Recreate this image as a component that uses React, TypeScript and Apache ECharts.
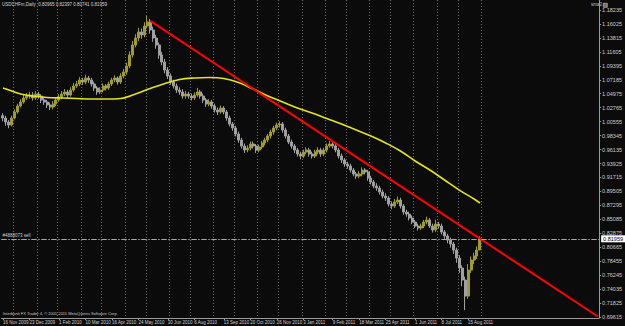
import React, { useEffect, useRef } from "react";
import * as echarts from "echarts";

// ---- data ----
const firstOpen = 1.015;
const closes = [
  1.0113, 1.005, 1.0002, 1.0113, 1.0208, 1.0303, 1.0366, 1.043, 1.0461, 1.0477,
  1.043, 1.0493, 1.0461, 1.0398, 1.0366, 1.0319, 1.0287, 1.0335, 1.0398, 1.0446,
  1.0493, 1.0525, 1.0477, 1.0556, 1.062, 1.0651, 1.0715, 1.0683, 1.0747, 1.0715,
  1.0651, 1.0588, 1.0525, 1.0556, 1.062, 1.0588, 1.0651, 1.0715, 1.0747, 1.0683,
  1.0778, 1.0842, 1.0937, 1.1111, 1.1269, 1.138, 1.1475, 1.1428, 1.157, 1.1634,
  1.1507, 1.138, 1.1269, 1.1111, 1.1, 1.0873, 1.0778, 1.0683, 1.062, 1.0556,
  1.0525, 1.0461, 1.0493, 1.0461, 1.043, 1.0477, 1.0525, 1.0461, 1.0398, 1.0335,
  1.0366, 1.0303, 1.024, 1.0208, 1.0271, 1.0208, 1.0113, 1.0018, 0.9955, 0.9859,
  0.9764, 0.9669, 0.9606, 0.9638, 0.9701, 0.9669, 0.9606, 0.9654, 0.9717, 0.9764,
  0.9828, 0.9891, 0.9955, 1.0002, 1.0018, 0.9923, 0.9828, 0.9733, 0.9669, 0.9606,
  0.9543, 0.9511, 0.9574, 0.9606, 0.9543, 0.9511, 0.9574, 0.9606, 0.9543, 0.9606,
  0.9669, 0.9701, 0.9669, 0.9606, 0.9511, 0.9448, 0.9384, 0.9353, 0.9289, 0.9226,
  0.9194, 0.9226, 0.9289, 0.9258, 0.9163, 0.9099, 0.9036, 0.9004, 0.8941, 0.8877,
  0.8846, 0.8751, 0.8719, 0.8782, 0.8814, 0.8719, 0.8624, 0.8592, 0.8529, 0.8466,
  0.8402, 0.8371, 0.8402, 0.8466, 0.8497, 0.8402, 0.8339, 0.8434, 0.8402, 0.8307,
  0.8244, 0.818, 0.8117, 0.8022, 0.7895, 0.7737, 0.7547, 0.7293, 0.7705, 0.7864,
  0.7927, 0.8022, 0.8196,
];
const highs = [
  1.019, 1.015, 1.008, 1.015, 1.025, 1.034, 1.041, 1.048, 1.051, 1.053,
  1.052, 1.054, 1.053, 1.049, 1.044, 1.04, 1.036, 1.038, 1.044, 1.049,
  1.054, 1.057, 1.056, 1.06, 1.067, 1.07, 1.076, 1.075, 1.08, 1.078,
  1.075, 1.069, 1.062, 1.06, 1.066, 1.065, 1.069, 1.075, 1.079, 1.077,
  1.082, 1.089, 1.099, 1.117, 1.133, 1.144, 1.154, 1.153, 1.163, 1.173,
  1.168, 1.156, 1.143, 1.131, 1.116, 1.105, 1.092, 1.082, 1.072, 1.066,
  1.06, 1.057, 1.054, 1.053, 1.05, 1.052, 1.059, 1.056, 1.05, 1.043,
  1.041, 1.04, 1.034, 1.028, 1.031, 1.03, 1.024, 1.015, 1.005, 0.999,
  0.99, 0.98, 0.971, 0.968, 0.974, 0.974, 0.97, 0.969, 0.975, 0.98,
  0.986, 0.993, 0.999, 1.004, 1.006, 1.005, 0.996, 0.986, 0.977, 0.97,
  0.964, 0.958, 0.961, 0.965, 0.964, 0.958, 0.961, 0.965, 0.964, 0.964,
  0.971, 0.975, 0.974, 0.97, 0.964, 0.955, 0.948, 0.942, 0.939, 0.932,
  0.926, 0.927, 0.933, 0.932, 0.929, 0.92, 0.913, 0.908, 0.904, 0.898,
  0.892, 0.888, 0.879, 0.883, 0.887, 0.885, 0.875, 0.866, 0.863, 0.857,
  0.85, 0.844, 0.844, 0.85, 0.855, 0.853, 0.844, 0.85, 0.847, 0.844,
  0.834, 0.828, 0.822, 0.815, 0.806, 0.794, 0.778, 0.76, 0.78, 0.792,
  0.798, 0.808, 0.824,
];
const lows = [
  1.006, 0.999, 0.995, 0.998, 1.009, 1.018, 1.028, 1.034, 1.04, 1.042,
  1.039, 1.04, 1.042, 1.035, 1.032, 1.027, 1.024, 1.025, 1.03, 1.037,
  1.041, 1.046, 1.043, 1.045, 1.053, 1.059, 1.062, 1.064, 1.065, 1.067,
  1.061, 1.054, 1.048, 1.049, 1.052, 1.055, 1.056, 1.062, 1.068, 1.064,
  1.065, 1.074, 1.08, 1.09, 1.107, 1.123, 1.133, 1.137, 1.139, 1.153,
  1.145, 1.132, 1.121, 1.105, 1.095, 1.082, 1.073, 1.064, 1.058, 1.051,
  1.048, 1.042, 1.042, 1.042, 1.039, 1.04, 1.045, 1.042, 1.035, 1.029,
  1.03, 1.026, 1.02, 1.016, 1.018, 1.017, 1.007, 0.998, 0.991, 0.982,
  0.972, 0.963, 0.956, 0.957, 0.96, 0.963, 0.956, 0.957, 0.962, 0.968,
  0.973, 0.979, 0.985, 0.992, 0.996, 0.988, 0.979, 0.97, 0.963, 0.956,
  0.95, 0.946, 0.948, 0.954, 0.95, 0.947, 0.948, 0.954, 0.95, 0.951,
  0.957, 0.964, 0.963, 0.957, 0.947, 0.94, 0.934, 0.931, 0.925, 0.919,
  0.915, 0.916, 0.919, 0.922, 0.912, 0.906, 0.9, 0.896, 0.89, 0.884,
  0.88, 0.871, 0.867, 0.869, 0.875, 0.868, 0.858, 0.855, 0.849, 0.843,
  0.837, 0.833, 0.834, 0.837, 0.843, 0.837, 0.83, 0.831, 0.836, 0.827,
  0.82, 0.813, 0.806, 0.796, 0.782, 0.766, 0.745, 0.707, 0.725, 0.766,
  0.78, 0.788, 0.8074,
];

const maBars = [0, 3, 6, 10, 15, 20, 25, 30, 35, 40, 45, 50, 55, 60, 65, 70, 75, 80, 85, 90, 95, 100, 105, 110, 115, 120, 125, 130, 135, 140, 145, 150, 155, 160, 162];
const maValues = [1.0588, 1.0541, 1.0493, 1.0461, 1.0438, 1.043, 1.0422, 1.0414, 1.0414, 1.0422, 1.0493, 1.058, 1.0659, 1.0723, 1.0747, 1.0754, 1.0739, 1.0675, 1.0572, 1.0461, 1.0366, 1.0271, 1.0192, 1.0105, 1.0018, 0.9923, 0.9828, 0.9717, 0.959, 0.9432, 0.9289, 0.9131, 0.8972, 0.883, 0.8767];

const trendBars = [50, 202];
const trendValues = [1.165, 0.697];

const lastPrice = 0.81959;
const orderLabel = "#4888073 sell";

const yTickValues = [0.69615, 0.71825, 0.74035, 0.76245, 0.78455, 0.80665, 0.82875, 0.85085, 0.87295, 0.89505, 0.91715, 0.93925, 0.96135, 0.98345, 1.00555, 1.02765, 1.04975, 1.07185, 1.09395, 1.11605, 1.13815, 1.16025, 1.18235];

const xLabelBars = [0, 9, 19, 28, 37, 46, 56, 65, 75, 84, 93, 102, 112, 121, 130, 140, 149, 158];
const xLabelTexts = ["16 Nov 2009", "23 Dec 2009", "1 Feb 2010", "10 Mar 2010", "16 Apr 2010", "24 May 2010", "30 Jun 2010", "6 Aug 2010", "13 Sep 2010", "20 Oct 2010", "26 Nov 2010", "3 Jan 2011", "9 Feb 2011", "18 Mar 2011", "25 Apr 2011", "1 Jun 2011", "8 Jul 2011", "15 Aug 2011"];
const gridBars = [4, 12, 19, 27, 34, 42, 49, 57, 64, 72, 79, 87, 94, 102, 110, 117, 125, 132, 140, 148, 155, 163];

const TOTAL_BARS = 203;
const titleText = "USDCHFm,Daily  0.80965 0.82397 0.80741 0.81959";
const footerText = "Interbank FX Trader 4, \u00a9 2001-2011 MetaQuotes Software Corp.";

const FONT = "Liberation Sans";
const TXT = "#cfcfcf";
const AXIS = "#9a9a9a";

export default function App() {
  const ref = useRef<HTMLDivElement>(null);
  useEffect(() => {
    if (!ref.current) return;
    const chart = echarts.init(ref.current, null, { renderer: "svg" });
    const cats = Array.from({ length: TOTAL_BARS }, (_, i) => String(i));
    const candles = closes.map((c, i) => [i === 0 ? firstOpen : closes[i - 1], c, lows[i], highs[i]]);
    const labelSet = new Set(xLabelBars);
    const gridSet = new Set(gridBars);
    chart.setOption({
      animation: false,
      backgroundColor: "#0b0b0b",
      grid: { left: 0, right: 17, top: 0, bottom: 8, containLabel: false },
      xAxis: {
        type: "category",
        data: cats,
        boundaryGap: true,
        axisLine: { show: true, lineStyle: { color: AXIS, width: 1 } },
        axisTick: {
          show: true,
          alignWithLabel: true,
          length: 2,
          interval: (i: number) => labelSet.has(i),
          lineStyle: { color: AXIS },
        },
        axisLabel: {
          interval: (i: number) => labelSet.has(i),
          formatter: (v: string) => {
            const k = xLabelBars.indexOf(Number(v));
            return k >= 0 ? xLabelTexts[k] : "";
          },
          color: TXT,
          fontSize: 4.5,
          fontFamily: FONT,
          align: "left",
          margin: 2,
        },
        splitLine: {
          show: true,
          interval: (i: number) => gridSet.has(i),
          lineStyle: { color: "#6c6c6c", width: 1, type: [1, 2] },
        },
      },
      yAxis: {
        type: "value",
        position: "right",
        min: 0.69457,
        max: 1.19819,
        scale: true,
        axisLine: { show: true, lineStyle: { color: AXIS, width: 1 } },
        axisTick: { show: true, length: 2, customValues: yTickValues, lineStyle: { color: AXIS } },
        axisLabel: {
          customValues: yTickValues,
          formatter: (v: number) => v.toFixed(5),
          color: TXT,
          fontSize: 5.5,
          fontFamily: FONT,
          margin: 3,
        },
        splitLine: { show: false },
      },
      series: [
        {
          type: "candlestick",
          data: candles,
          barWidth: 2.5,
          z: 3,
          itemStyle: {
            color: "#9e9c30",
            color0: "#a0a0a0",
            borderColor: "#9e9c30",
            borderColor0: "#a0a0a0",
            borderWidth: 1,
          },
        },
        {
          type: "line",
          data: maBars.map((b, i) => [b, maValues[i]]),
          smooth: 0.4,
          symbol: "none",
          z: 4,
          lineStyle: { color: "#e4e41c", width: 1.6 },
          markLine: {
            silent: true,
            symbol: ["none", "none"],
            z: 6,
            data: [
              {
                yAxis: lastPrice,
                lineStyle: { color: "#a8a8a8", width: 1, type: [5, 2, 1, 2] },
                label: {
                  show: true,
                  position: "end",
                  formatter: lastPrice.toFixed(5),
                  backgroundColor: "#ffffff",
                  color: "#000000",
                  fontSize: 5.5,
                  fontFamily: FONT,
                  padding: [1, 2, 0, 2],
                  distance: 2,
                },
              },
              {
                yAxis: lastPrice,
                lineStyle: { color: "#a8a8a8", width: 1, type: [5, 2, 1, 2] },
                label: {
                  show: true,
                  position: "insideStartTop",
                  formatter: orderLabel,
                  color: TXT,
                  fontSize: 4.5,
                  fontFamily: FONT,
                  distance: 1,
                },
              },
            ],
          },
        },
        {
          type: "line",
          data: trendBars.map((b, i) => [b, trendValues[i]]),
          symbol: "none",
          z: 5,
          lineStyle: { color: "#ff0000", width: 2 },
        },
      ],
      graphic: [
        { type: "text", left: 2, top: 2, style: { text: titleText, fill: "#d8d8d8", fontSize: 4.5, fontFamily: FONT } },
        { type: "text", left: 3, top: 311, style: { text: footerText, fill: "#c8c8c8", fontSize: 4, fontFamily: FONT } },
        { type: "text", left: 591, top: 2, style: { text: "sma2", fill: "#c8c8c8", fontSize: 4.5, fontFamily: FONT } },
        { type: "rect", left: 603, top: 3, shape: { width: 4, height: 4 }, style: { fill: "#707070", stroke: "#d0d0d0", lineWidth: 0.6 } },
      ],
    });
    return () => chart.dispose();
  }, []);
  return (
    <div
      ref={ref}
      style={{ position: "fixed", left: 0, top: 0, width: 625, height: 326, background: "#0b0b0b" }}
    />
  );
}
